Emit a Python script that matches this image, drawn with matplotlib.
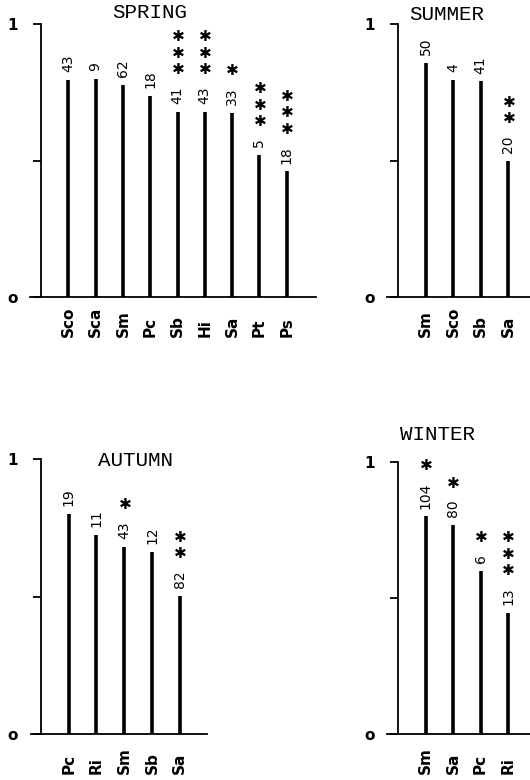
import matplotlib
matplotlib.use("Agg")
import matplotlib.pyplot as plt

# ---------------- data ----------------
spring_species = ["Sco", "Sca", "Sm", "Pc", "Sb", "Hi", "Sa", "Pt", "Ps"]
spring_values = [0.795, 0.80, 0.777, 0.736, 0.678, 0.678, 0.674, 0.52, 0.46]
spring_n = [43, 9, 62, 18, 41, 43, 33, 5, 18]
spring_stars = [0, 0, 0, 0, 3, 3, 1, 3, 3]

summer_species = ["Sm", "Sco", "Sb", "Sa"]
summer_values = [0.857, 0.795, 0.79, 0.498]
summer_n = [50, 4, 41, 20]
summer_stars = [0, 0, 0, 2]

autumn_species = ["Pc", "Ri", "Sm", "Sb", "Sa"]
autumn_values = [0.80, 0.724, 0.68, 0.662, 0.502]
autumn_n = [19, 11, 43, 12, 82]
autumn_stars = [0, 0, 1, 0, 2]

winter_species = ["Sm", "Sa", "Pc", "Ri"]
winter_values = [0.80, 0.768, 0.60, 0.445]
winter_n = [104, 80, 6, 13]
winter_stars = [1, 1, 1, 3]

W, H = 530, 780
fig = plt.figure(figsize=(W / 100, H / 100), dpi=100)

panels = [
    # title, species, values, n, stars, axis_x, unit, x_left, x_right, y_top, y_zero, title_x, title_y
    ("SPRING", spring_species, spring_values, spring_n, spring_stars, 41, 27.3, 30, 316, 24, 297, 150, 13),
    ("SUMMER", summer_species, summer_values, summer_n, summer_stars, 398, 27.6, 387, 530, 24, 297, 447, 14),
    ("AUTUMN", autumn_species, autumn_values, autumn_n, autumn_stars, 41, 27.75, 31, 207, 459, 734, 136, 460),
    ("WINTER", winter_species, winter_values, winter_n, winter_stars, 398, 27.5, 387, 530, 462, 734, 438, 434),
]

for (title, sp, vals, ns, stars, ax_x, unit, xl, xr, yt, yz, tx, ty) in panels:
    ax = fig.add_axes([xl / W, (H - yz) / H, (xr - xl) / W, (yz - yt) / H])
    ax.set_xlim((xl - ax_x) / unit, (xr - ax_x) / unit)
    ax.set_ylim(0, 1)
    ax.patch.set_alpha(0)
    for s in ("top", "right"):
        ax.spines[s].set_visible(False)
    ax.spines["left"].set_position(("data", 0))
    ax.spines["left"].set_bounds(0, 1)
    ax.spines["left"].set_linewidth(1.3)
    ax.spines["bottom"].set_linewidth(1.3)
    ax.set_xticks([])
    ax.set_yticks([0, 0.5, 1])
    ax.set_yticklabels(["o", "", "1"])
    ax.tick_params(axis="y", direction="out", length=6, width=1.3, pad=11,
                   labelsize=11)
    for lab in ax.get_yticklabels():
        lab.set_fontweight("bold")

    xs = list(range(1, len(sp) + 1))
    ax.vlines(xs, 0, vals, colors="black", linewidth=2.6)

    for x, v, n, k, name in zip(xs, vals, ns, stars, sp):
        ax.annotate(str(n), xy=(x, v), xytext=(0, 5.5), textcoords="offset points",
                    rotation=90, ha="center", va="bottom", fontsize=10,
                    family="DejaVu Sans")
        base = 5.5 + len(str(n)) * 6.4 + 12
        for j in range(k):
            ax.annotate("\u2731", xy=(x, v), xytext=(0.5, base + 12 * j),
                        textcoords="offset points", ha="center", va="center",
                        fontsize=11, family="DejaVu Sans")
        ax.annotate(name, xy=(x, 0), xycoords=("data", "data"),
                    xytext=(0, -28.5), textcoords="offset points",
                    rotation=90, ha="center", va="bottom", fontsize=11,
                    fontweight="bold", family="DejaVu Sans")

    fig.text(tx / W, 1 - ty / H, title, ha="center", va="center",
             fontsize=15, family="Liberation Mono")

fig.savefig("out.png", dpi=100)
